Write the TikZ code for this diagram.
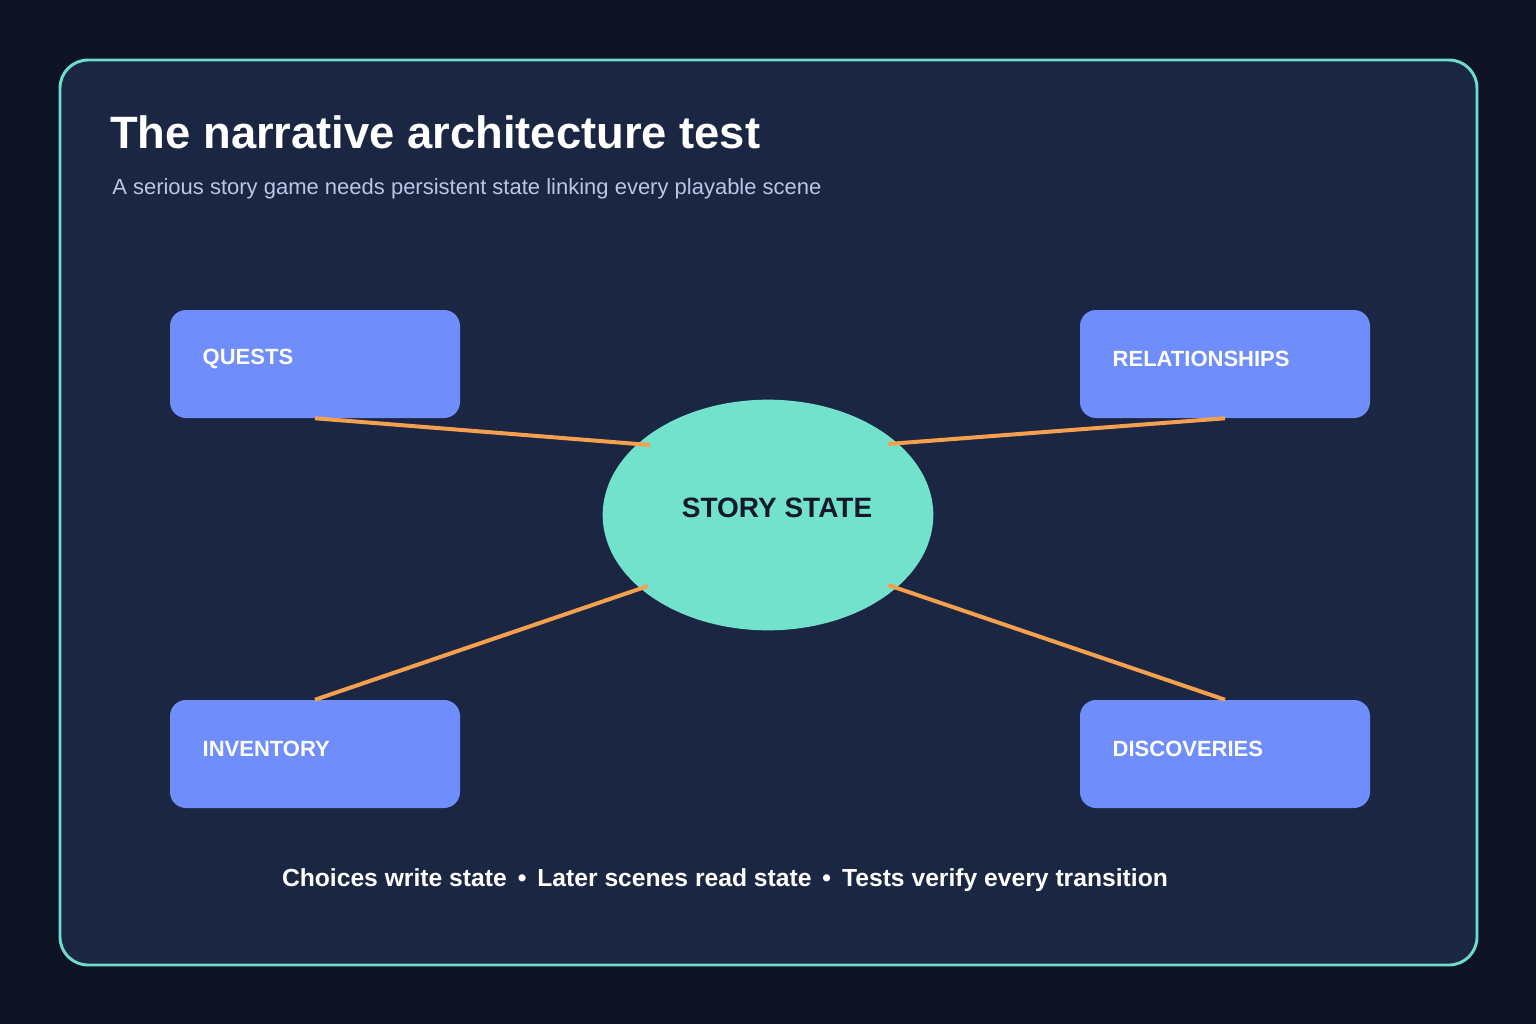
\documentclass[tikz,border=0pt]{standalone}
\usepackage{fontspec}
\setmainfont{Liberation Sans}
\usetikzlibrary{shapes.geometric}
\definecolor{bg}{HTML}{0E1426}
\definecolor{panel}{HTML}{1B2643}
\definecolor{teal}{HTML}{6EDCCB}
\definecolor{boxc}{HTML}{6F8EFB}
\definecolor{ell}{HTML}{72E2CD}
\definecolor{org}{HTML}{F5A04F}
\definecolor{sub}{HTML}{B9C6E6}
\definecolor{dark}{HTML}{13192B}
\begin{document}
\begin{tikzpicture}[x=0.75pt,y=-0.75pt,
  box/.style={fill=boxc,rounded corners=12pt,minimum width=217.5pt,minimum height=81pt,inner sep=0pt},
  lbl/.style={text=white,font=\bfseries\fontsize{16.5}{19}\selectfont,anchor=west},
  link/.style={draw=org,line width=3pt}]
\useasboundingbox (0,0) rectangle (1536,1024);
\fill[bg] (0,0) rectangle (1536,1024);
\draw[fill=panel,draw=teal,line width=2.2pt,rounded corners=21pt] (60,60) rectangle (1477,965);
\node[anchor=base west,text=white,font=\bfseries\fontsize{34}{40}\selectfont,inner sep=0pt] (title) at (110,148) {The narrative architecture test};
\node[anchor=base west,text=sub,font=\fontsize{16.5}{20}\selectfont,inner sep=0pt] (subtitle) at (112,194) {A serious story game needs persistent state linking every playable scene};
\node[box] (q) at (315,364) {};
\node[box] (r) at (1225,364) {};
\node[box] (i) at (315,754) {};
\node[box] (d) at (1225,754) {};
\node[lbl] (ql) at (198,359) {QUESTS};
\node[lbl] (rl) at (1108,359) {RELATIONSHIPS};
\node[lbl] (il) at (198,749) {INVENTORY};
\node[lbl] (dl) at (1108,749) {DISCOVERIES};
\node[ellipse,fill=ell,minimum width=248pt,minimum height=173pt,inner sep=0pt] (s) at (768,515) {};
\node[text=dark,font=\bfseries\fontsize{21}{25}\selectfont] (sl) at (777,508) {STORY STATE};
\coordinate (s1) at (650,445);
\coordinate (s2) at (888,444);
\coordinate (s3) at (648,586);
\coordinate (s4) at (888,585);
\draw[link] (q.south) -- (s1);
\draw[link] (r.south) -- (s2);
\draw[link] (i.north) -- (s3);
\draw[link] (d.north) -- (s4);
\node[text=white,font=\bfseries\fontsize{18.5}{22}\selectfont] (foot) at (725,880) {Choices write state \,•\, Later scenes read state \,•\, Tests verify every transition};
\end{tikzpicture}
\end{document}
